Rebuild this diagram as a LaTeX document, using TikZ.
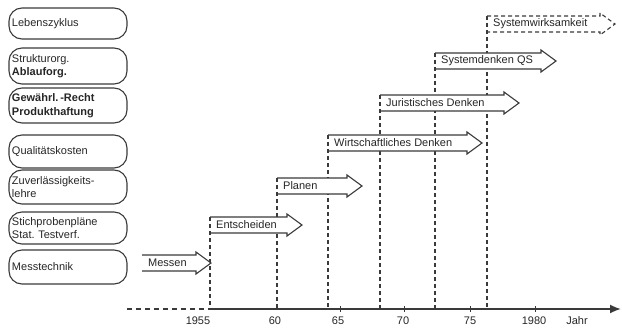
\documentclass[tikz,border=0pt]{standalone}
\usepackage{fontspec}
\setmainfont{Liberation Sans}
\usetikzlibrary{arrows.meta}
\definecolor{ink}{HTML}{262626}
\definecolor{rule}{HTML}{3A3A3A}

% Block arrow for one phase: [outline style]{name}{left x}{tip x}{centre y}{label}
\newcommand{\phasearrow}[6][phaseline]{%
  \fill[white] (#3,#5-8) -- (#4-15,#5-8) -- (#4-15,#5-11) -- (#4,#5)
    -- (#4-15,#5+11) -- (#4-15,#5+8) -- (#3,#5+8) -- cycle;
  \draw[#1] (#3,#5-8) -- (#4-15,#5-8) -- (#4-15,#5-11) -- (#4,#5)
    -- (#4-15,#5+11) -- (#4-15,#5+8) -- (#3,#5+8);
  \node[anchor=west] (#2) at (#3+6,#5) {#6};
}

\begin{document}
\begin{tikzpicture}[x=1pt,y=-1pt,
  every node/.style={font=\fontsize{11}{13.5}\selectfont, text=ink, inner sep=0pt},
  topicbox/.style={draw=rule, line width=1.1pt, rounded corners=13pt,
    minimum width=118pt, text width=112pt, inner xsep=3pt, align=left},
  yearline/.style={draw=rule, line width=1.1pt, dash pattern=on 4pt off 3pt},
  phaseline/.style={draw=rule, line width=1.1pt, line join=miter},
  phasedashed/.style={draw=rule, line width=1.1pt, dash pattern=on 4pt off 3pt},
  axisline/.style={draw=rule, line width=1.8pt},
  yearlabel/.style={anchor=center},
]
\useasboundingbox (0,0) rectangle (622,329);

% quality topics on the left
\node[topicbox, minimum height=31pt] (lz) at (68,23.5) {Lebenszyklus};
\node[topicbox, minimum height=36pt] (so) at (68,66) {Strukturorg.\\\textbf{Ablauforg.}};
\node[topicbox, minimum height=35pt] (gr) at (68,105.5) {\textbf{Gewährl.\,-Recht}\\\textbf{Produkthaftung}};
\node[topicbox, minimum height=33pt] (qk) at (68,151.5) {Qualitätskosten};
\node[topicbox, minimum height=34pt] (zl) at (68,187) {Zuverlässigkeits-\\lehre};
\node[topicbox, minimum height=32pt] (sp) at (68,228) {Stichprobenpläne\\Stat.\ Testverf.};
\node[topicbox, minimum height=34pt] (mt) at (68,267) {Messtechnik};

% phases, drawn from the top down so lower arrows cover the year lines
\phasearrow[phasedashed]{sw}{487}{615}{24}{Systemwirksamkeit}
\draw[yearline] (487,16) -- (487,309);
\phasearrow{sd}{435}{556}{61}{Systemdenken QS}
\draw[yearline] (435,53) -- (435,309);
\phasearrow{jd}{380}{519}{103}{Juristisches Denken}
\draw[yearline] (380,95) -- (380,309);
\phasearrow{wd}{328}{482}{143}{Wirtschaftliches Denken}
\draw[yearline] (328,135) -- (328,309);
\phasearrow{pl}{277}{362}{186}{Planen}
\draw[yearline] (277,178) -- (277,309);
\phasearrow{es}{210}{302}{225}{Entscheiden}
\draw[yearline] (210,217) -- (210,309);
\phasearrow{ms}{142}{211}{263}{Messen}

% time axis
\coordinate (axL) at (127,309);
\coordinate (ax0) at (210,309);
\coordinate (axR) at (621,309);
\draw[draw=rule, line width=1.1pt, dash pattern=on 5pt off 4pt] (axL) -- (ax0);
\draw[axisline, -{Latex[length=11pt,width=9pt]}] (ax0) -- (axR);
\foreach \tx in {340,404,470,535}
  \draw[draw=rule, line width=1pt] (\tx,306) -- (\tx,312);

\node[yearlabel] (y55) at (198,321) {1955};
\node[yearlabel] (y60) at (275,321) {60};
\node[yearlabel] (y65) at (338,321) {65};
\node[yearlabel] (y70) at (403,321) {70};
\node[yearlabel] (y75) at (470,321) {75};
\node[yearlabel] (y80) at (534,321) {1980};
\node[yearlabel] (jahr) at (577,321) {Jahr};
\end{tikzpicture}
\end{document}
